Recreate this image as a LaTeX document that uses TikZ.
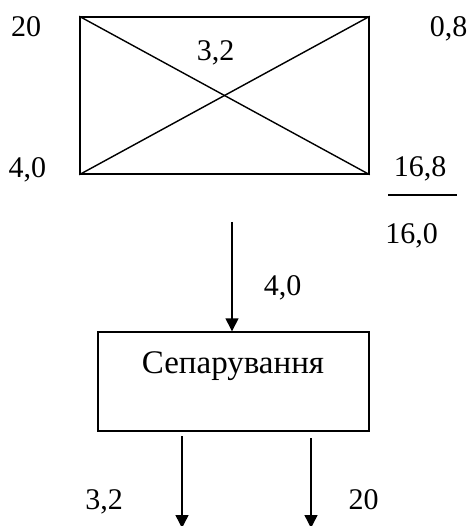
\documentclass[tikz,border=0pt]{standalone}
\usepackage{fontspec}
\setmainfont{Liberation Serif}
\usetikzlibrary{arrows.meta}
\tikzset{
  num/.style={anchor=base,inner sep=0pt,font=\fontsize{30}{36}\selectfont},
  boxlbl/.style={anchor=base,inner sep=0pt,font=\fontsize{33}{40}\selectfont},
  blk/.style={draw,line width=1.4pt,inner sep=0pt},
  flow/.style={line width=1.4pt,-{Triangle[width=13pt,length=13pt]}},
  ln/.style={line width=1.4pt}
}
\begin{document}
\begin{tikzpicture}[x=1pt,y=-1pt]
\useasboundingbox (0,0) rectangle (470,526);
% top box with diagonals
\node[blk,minimum width=289pt,minimum height=157pt] (box1) at (224.5,95.5) {};
\draw[ln] (box1.north west) -- (box1.south east);
\draw[ln] (box1.south west) -- (box1.north east);
% labels around top box
\node[num] (t20) at (26,37) {20};
\node[num] (t08) at (448.5,37) {0,8};
\node[num] (t32) at (215.5,61) {3,2};
\node[num] (t40) at (27.5,178) {4,0};
\node[num] (t168) at (420,177) {16,8};
\coordinate (r1) at (388,195);
\coordinate (r2) at (457,195);
\draw[ln] (r1) -- (r2);
\node[num] (t160) at (411.5,243) {16,0};
% separation box
\node[blk,minimum width=271pt,minimum height=99pt] (box2) at (233.5,381.5) {};
\node[boxlbl] (sep) at (233,373) {Сепарування};
% input arrow
\coordinate (a0) at (232,222);
\draw[flow] (a0) -- (a0 |- box2.north);
\node[num] (m40) at (282.5,295) {4,0};
% output arrows
\coordinate (o1s) at (182,436);
\coordinate (o1e) at (182,528);
\coordinate (o2s) at (311,438);
\coordinate (o2e) at (311,528);
\draw[flow] (o1s) -- (o1e);
\draw[flow] (o2s) -- (o2e);
\node[num] (b32) at (104,509) {3,2};
\node[num] (b20) at (363.5,509) {20};
\end{tikzpicture}
\end{document}
